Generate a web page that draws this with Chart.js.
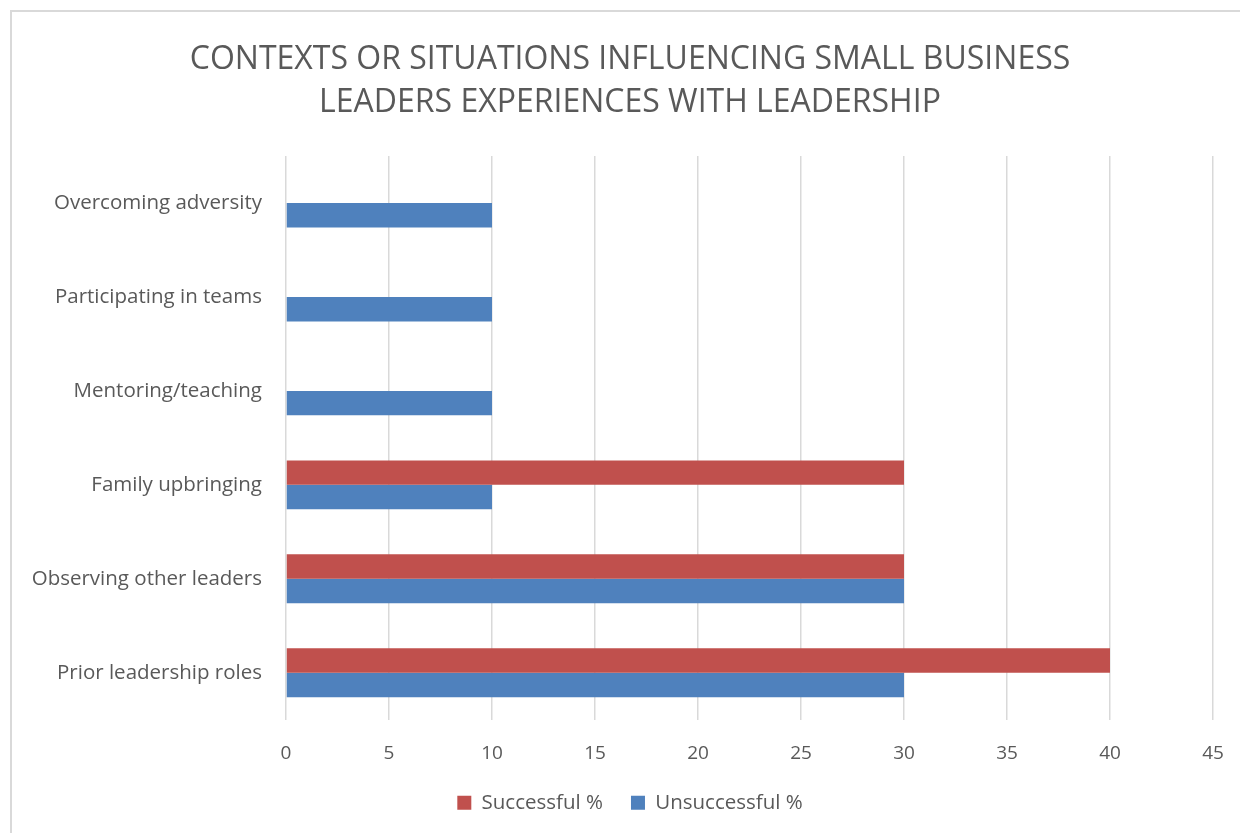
<!DOCTYPE html>
<html>
<head>
<meta charset="utf-8">
<script src="https://cdn.jsdelivr.net/npm/chart.js@4"></script>
<style>
  html, body { margin: 0; padding: 0; background: #fff; }
  #wrap { position: relative; width: 1240px; height: 833px; overflow: hidden; }
  /* marco gris del área del gráfico */
  #frame { position: absolute; left: 10px; top: 10px; width: 1300px; height: 900px;
           border-left: 2px solid #d9d9d9; border-top: 2px solid #d9d9d9; }
  canvas { position: absolute; left: 0; top: 0; }
</style>
</head>
<body>
<div id="wrap">
  <div id="frame"></div>
  <canvas id="myChart" width="1240" height="833"></canvas>
</div>
<script>
// Datos del gráfico
const categorias = [
    'Overcoming adversity',
    'Participating in teams',
    'Mentoring/teaching',
    'Family upbringing',
    'Observing other leaders',
    'Prior leadership roles'
];
const exitosos = [0, 0, 0, 30, 30, 40];
const noExitosos = [10, 10, 10, 10, 30, 30];
const titulo = ['CONTEXTS OR SITUATIONS INFLUENCING SMALL BUSINESS', 'LEADERS EXPERIENCES WITH LEADERSHIP'];

const gris = '#595959';
const fuente = "'Open Sans', 'Liberation Sans', sans-serif";

const ctx = document.getElementById('myChart').getContext('2d');

const myChart = new Chart(ctx, {
    type: 'bar',
    data: {
        labels: categorias,
        datasets: [{
            label: 'Successful %',
            data: exitosos,
            backgroundColor: '#C0504D',
            borderWidth: 0
        }, {
            label: 'Unsuccessful %',
            data: noExitosos,
            backgroundColor: '#4F81BD',
            borderWidth: 0
        }]
    },
    options: {
        indexAxis: 'y',
        responsive: false,
        animation: false,
        datasets: {
            bar: { categoryPercentage: 0.52, barPercentage: 1 }
        },
        layout: { padding: { left: 24, right: 4, top: 0, bottom: 10 } },
        plugins: {
            title: {
                display: true,
                text: titulo,
                color: gris,
                font: { family: fuente, size: 32, weight: 'normal', lineHeight: 1.36 },
                padding: { top: 38, bottom: 31 }
            },
            legend: {
                position: 'bottom',
                labels: {
                    color: gris,
                    font: { family: fuente, size: 20.5 },
                    boxWidth: 14,
                    boxHeight: 14,
                    padding: 28
                }
            },
            tooltip: { enabled: false }
        },
        scales: {
            x: {
                min: 0,
                max: 45,
                ticks: { stepSize: 5, color: gris, font: { family: fuente, size: 19 }, padding: 22 },
                grid: { color: '#d9d9d9', lineWidth: 1.5, drawTicks: false },
                border: { display: false },
                // acortamos el eje para dar más alto al área de barras
                afterFit: (eje) => {
                    eje.height = eje.height - 22;
                    eje.paddingRight = 27;
                }
            },
            y: {
                ticks: { color: gris, font: { family: fuente, size: 20.5 }, padding: 24 },
                grid: { display: false, drawTicks: false },
                border: { display: false },
                afterFit: (eje) => { eje.width = 262; }
            }
        }
    }
});
</script>
</body>
</html>
